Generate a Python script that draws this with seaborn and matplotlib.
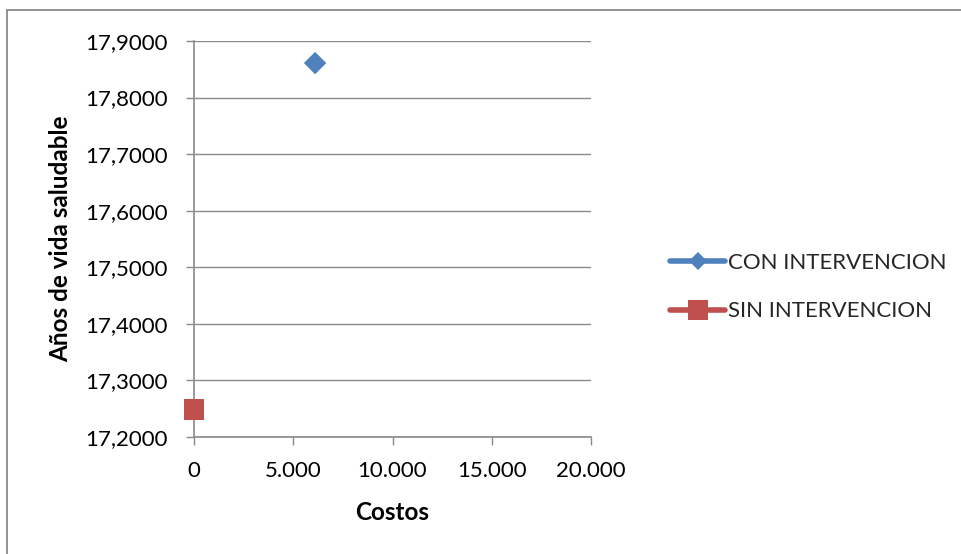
import matplotlib
matplotlib.use("Agg")
import matplotlib.pyplot as plt
from matplotlib.lines import Line2D
from matplotlib.patches import Rectangle
from matplotlib.ticker import FuncFormatter, MultipleLocator
import seaborn as sns
import pandas as pd

# Cost-effectiveness points
series = ["CON INTERVENCION", "SIN INTERVENCION"]
costos = [6100, 0]
anios_vida = [17.861, 17.248]
colors = ["#4F81BD", "#C0504D"]
marker_shapes = ["D", "s"]
marker_areas = [130, 225]

x_ticks = [0, 5000, 10000, 15000, 20000]
y_min, y_max, y_step = 17.2, 17.9, 0.1

df = pd.DataFrame({"Costos": costos, "Años": anios_vida, "Serie": series})

sns.set_theme(style="white")
plt.rcParams["font.family"] = ["Lato", "DejaVu Sans"]

fig = plt.figure(figsize=(9.61, 5.54), dpi=100)
ax = fig.add_axes([194 / 961, 1 - 437 / 554, 397 / 961, 396 / 554])

sns.scatterplot(
    data=df, x="Costos", y="Años", hue="Serie", style="Serie", size="Serie",
    palette=dict(zip(series, colors)),
    markers=dict(zip(series, marker_shapes)),
    sizes=dict(zip(series, marker_areas)),
    linewidth=0, legend=False, ax=ax, clip_on=False, zorder=5,
)

grid_color = "#8a8a8a"
ax.set_xlim(x_ticks[0], x_ticks[-1])
ax.set_ylim(y_min, y_max)
ax.set_xticks(x_ticks)
ax.yaxis.set_major_locator(MultipleLocator(y_step))
ax.xaxis.set_major_formatter(FuncFormatter(lambda v, p: f"{int(round(v)):,}".replace(",", ".")))
ax.yaxis.set_major_formatter(FuncFormatter(lambda v, p: f"{v:.4f}".replace(".", ",")))

ax.grid(axis="y", color=grid_color, linewidth=1.0)
ax.grid(axis="x", visible=False)
for side in ["top", "right"]:
    ax.spines[side].set_visible(False)
for side in ["left", "bottom"]:
    ax.spines[side].set_color(grid_color)
    ax.spines[side].set_linewidth(1.2)

ax.tick_params(axis="y", direction="out", length=6, width=1.0, color=grid_color,
               pad=13, labelsize=16, labelcolor="black", left=True)
ax.tick_params(axis="x", direction="out", length=6, width=1.0, color=grid_color,
               pad=11, labelsize=16, labelcolor="black", bottom=True)

ax.set_xlabel("Costos", fontsize=17.5, fontweight="bold", color="black", labelpad=15)
ax.set_ylabel("Años de vida saludable", fontsize=17.5, fontweight="bold", color="black", labelpad=9)

handles = [
    Line2D([0], [0], color=c, marker=m, linewidth=4,
           markersize=(9.5 if m == "D" else 14), markeredgewidth=0)
    for c, m in zip(colors, marker_shapes)
]
fig.legend(handles, series, loc="center left", bbox_to_anchor=(661 / 961, 1 - 287 / 554),
           frameon=False, fontsize=16, handlelength=2.5, handletextpad=0.12,
           labelspacing=1.3, borderaxespad=0)

# Chart-area frame
fig.patches.append(Rectangle((7 / 961, -0.05), 1.2, 1 - 10 / 554 + 0.05,
                             transform=fig.transFigure, fill=False,
                             edgecolor="#8a8a8a", linewidth=1.3))

fig.savefig("out.png", dpi=100, facecolor="white")
